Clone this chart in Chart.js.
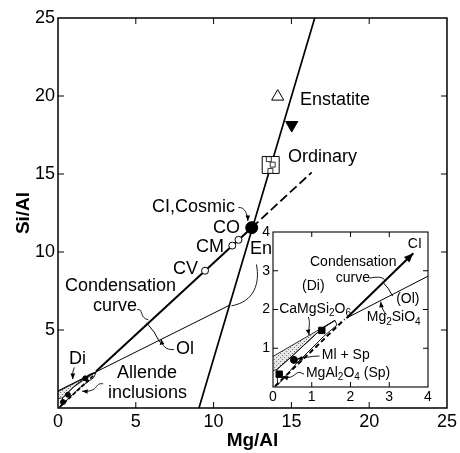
<!DOCTYPE html>
<html><head><meta charset="utf-8">
<script src="https://cdn.jsdelivr.net/npm/chart.js@4/dist/chart.umd.min.js"></script>
<style>
html,body{margin:0;padding:0;background:#fff;}
#wrap{position:relative;width:460px;height:453px;overflow:hidden;}
canvas{position:absolute;}
</style></head><body>
<div id="wrap">
<canvas id="main" width="460" height="453" style="left:0;top:0"></canvas>
<canvas id="inset" width="215" height="200" style="left:230px;top:215px"></canvas>
</div>
<script>
const FF = "'Liberation Sans', Arial, Helvetica, sans-serif";

// ---------- main plot data ----------
const xTicksMain = [0, 5, 10, 15, 20, 25];
const yTicksMain = [5, 10, 15, 20, 25];
const ciLine = [[2.45, 2.35], [12.45, 11.56]];
const ciDashed = [[12.45, 11.56], [16.3, 15.1]];
const steepLine = [[9.06, 0], [16.5, 25]];
const condLine = [[0, 1.1], [11.05, 6.6]];
const cvPoint = [[9.45, 8.8]];
const cmPoint = [[11.2, 10.41]];
const coPoint = [[11.6, 10.78]];
const ciPoint = [[12.45, 11.56]];
const enstatiteOpen = [[14.12, 19.96]];
const enstatiteFilled = [[15.02, 18.14]];
const ordinaryBox = [[13.67, 15.58]];
const ordinaryPts = [[13.55, 15.95], [13.8, 15.6], [13.65, 15.2]];
const allendeOutline = [[0.2,0.2],[0.3,0.65],[1.0,1.35],[2.0,2.15],[2.45,2.3],[2.3,1.95],[1.4,1.3],[0.5,0.45],[0.2,0.2]];
const allendeDi = [[0,1.05],[2.45,2.3],[1.0,1.35],[0.3,0.65],[0,0.6]];
const allendeDash = [[0.1,0.05],[2.3,2.1]];
const allendePts = [[0.32,0.38],[0.64,0.85],[1.75,1.9]];

// ---------- inset data ----------
const xTicksInset = [0, 1, 2, 3, 4];
const yTicksInset = [1, 2, 3, 4];
const insetCI = [[1.9, 1.78], [3.62, 3.45]];
const insetOl = [[1.9, 1.78], [4.0, 2.86]];
const insetDash = [[0.05, 0.02], [1.85, 1.75]];
const insetDi = [[0,0.79],[1.6,1.72],[1.25,1.5],[0.55,0.85],[0.1,0.45],[0,0.42]];
const insetOutline = [[0.1,0.45],[0.55,0.85],[1.25,1.5],[1.6,1.72],[1.65,1.6],[1.3,1.3],[0.6,0.6],[0.12,0.05],[0.1,0.45]];
const insetSquares = [[1.26, 1.46], [0.16, 0.33]];
const insetCircles = [[0.54, 0.70]];

// ---------- labels (data coordinates) ----------
const mainLabels = [
  {t:[['Enstatite']], x:15.55, y:19.74},
  {t:[['Ordinary']], x:14.78, y:16.09},
  {t:[['CI,Cosmic']], x:6.04, y:12.88},
  {t:[['CO']], x:9.96, y:11.54},
  {t:[['CM']], x:8.87, y:10.32},
  {t:[['CV']], x:7.39, y:8.91},
  {t:[['En']], x:12.34, y:10.19},
  {t:[['Condensation']], x:0.45, y:7.82},
  {t:[['curve']], x:2.25, y:6.54},
  {t:[['Ol']], x:7.58, y:3.78},
  {t:[['Di']], x:0.71, y:3.14},
  {t:[['Allende']], x:3.79, y:2.24},
  {t:[['inclusions']], x:3.21, y:0.96}
];
const insetLabels = [
  {t:[['CI']], x:3.66, y:3.69, align:'center'},
  {t:[['Condensation']], x:2.07, y:3.21, align:'center'},
  {t:[['curve']], x:2.06, y:2.81, align:'center'},
  {t:[['(Di)']], x:1.04, y:2.6, align:'center'},
  {t:[['(Ol)']], x:3.48, y:2.26, align:'center'},
  {t:[['CaMgSi'],['2',1],['O'],['6',1]], x:0.16, y:2.0},
  {t:[['Mg'],['2',1],['SiO'],['4',1]], x:2.42, y:1.79},
  {t:[['Ml + Sp']], x:1.26, y:0.81},
  {t:[['MgAl'],['2',1],['O'],['4',1],[' (Sp)']], x:0.85, y:0.37}
];
const mainLeaders = [
  {p:[[11.6,12.85],[12.0,12.9],[12.2,12.4],[12.2,11.98]], arrow:true},
  {p:[[12.75,9.2],[13.0,8.0],[12.6,6.8],[11.15,6.55]], arrow:false},
  {p:[[5.1,6.3],[5.5,6.4],[5.2,5.8],[5.8,5.65]], arrow:false},
  {p:[[7.45,3.75],[6.9,3.7],[6.7,4.0],[6.62,4.42]], arrow:true},
  {p:[[1.05,2.6],[0.9,2.3],[0.95,2.0],[0.95,1.85]], arrow:true},
  {p:[[2.9,1.55],[2.3,1.65],[2.7,1.0],[1.55,1.08]], arrow:true}
];
const insetLeaders = [
  {p:[[2.48,2.81],[2.7,2.85],[2.85,2.85],[2.9,2.73]], arrow:false},
  {p:[[2.93,1.87],[2.85,1.95],[2.8,2.05],[2.78,2.2]], arrow:true},
  {p:[[0.91,1.81],[0.98,1.65],[0.9,1.5],[0.93,1.34]], arrow:true},
  {p:[[1.2,0.8],[1.0,0.8],[0.8,0.75],[0.62,0.72]], arrow:true},
  {p:[[0.8,0.33],[0.55,0.5],[0.6,0.15],[0.25,0.27]], arrow:true}
];

// ---------- helpers ----------
function stipple(){
  const c=document.createElement('canvas');c.width=4;c.height=4;
  const g=c.getContext('2d');g.fillStyle='#e6e6e6';g.fillRect(0,0,4,4);
  g.fillStyle='#777';g.fillRect(0,0,1,1);g.fillRect(2,2,1,1);
  return g.createPattern(c,'repeat');
}
const pts = a => a.map(([x,y])=>({x,y}));
function lineDs(a, o={}){
  return Object.assign({data:pts(a), showLine:true, borderColor:'#000', borderWidth:1, pointRadius:0, fill:false, tension:0}, o);
}
function ptDs(a, o={}){
  return Object.assign({data:pts(a), showLine:false, pointRadius:4, pointStyle:'circle', pointBackgroundColor:'#000', pointBorderColor:'#000', pointBorderWidth:1}, o);
}
// give later datasets a lower 'order' so they are drawn on top
function stack(list){ list.forEach((d,i)=>{d.order=list.length-i;}); return list; }
function drawRich(ctx, segs, x, y, size, align){
  let w=0;
  for(const [t,sub] of segs){ctx.font=(sub?Math.round(size*0.7):size)+'px '+FF; w+=ctx.measureText(t).width;}
  let cx = align==='center'? x-w/2 : align==='right'? x-w : x;
  ctx.textBaseline='middle'; ctx.textAlign='left'; ctx.fillStyle='#000';
  for(const [t,sub] of segs){
    ctx.font=(sub?Math.round(size*0.7):size)+'px '+FF;
    ctx.fillText(t, cx, sub? y+size*0.3 : y);
    cx += ctx.measureText(t).width;
  }
}
function arrowHead(ctx, fx, fy, tx, ty, len){
  const a=Math.atan2(ty-fy, tx-fx);
  ctx.beginPath();
  ctx.moveTo(tx,ty);
  ctx.lineTo(tx-len*Math.cos(a-0.4), ty-len*Math.sin(a-0.4));
  ctx.lineTo(tx-len*Math.cos(a+0.4), ty-len*Math.sin(a+0.4));
  ctx.closePath(); ctx.fill();
}

const annot = {
  id:'annot',
  beforeDraw(chart, args, o){
    if(o.white){
      const a=chart.chartArea, ctx=chart.ctx;
      ctx.save(); ctx.fillStyle='#fff'; ctx.fillRect(a.left,a.top,a.right-a.left,a.bottom-a.top); ctx.restore();
    }
  },
  afterDatasetsDraw(chart, args, o){
    const {ctx, chartArea:a, scales} = chart;
    const X=v=>scales.x.getPixelForValue(v), Y=v=>scales.y.getPixelForValue(v);
    ctx.save();
    ctx.strokeStyle='#000'; ctx.fillStyle='#000';
    ctx.lineWidth=o.frameW;
    ctx.strokeRect(a.left, a.top, a.right-a.left, a.bottom-a.top);
    ctx.lineWidth=1;
    ctx.beginPath();
    for(const v of o.xt){const px=X(v); ctx.moveTo(px,a.bottom); ctx.lineTo(px,a.bottom-o.len); ctx.moveTo(px,a.top); ctx.lineTo(px,a.top+o.len);}
    for(const v of o.yt){const py=Y(v); ctx.moveTo(a.left,py); ctx.lineTo(a.left+o.len,py); ctx.moveTo(a.right,py); ctx.lineTo(a.right-o.len,py);}
    ctx.stroke();
    if(o.arc){
      const [l1,l2,r]=o.arc;
      const cx=X(l1[0][0]), cy=Y(l1[0][1]);
      const a1=Math.atan2(Y(l1[1][1])-cy, X(l1[1][0])-cx);
      const a2=Math.atan2(Y(l2[1][1])-cy, X(l2[1][0])-cx);
      ctx.beginPath(); ctx.arc(cx,cy,r,a1-0.02,a2+0.03); ctx.stroke();
    }
    if(o.arrowLine){
      const l=o.arrowLine; const n=l.length;
      arrowHead(ctx, X(l[n-2][0]), Y(l[n-2][1]), X(l[n-1][0]), Y(l[n-1][1]), 10);
    }
    ctx.lineWidth=0.9;
    for(const L of o.leaders){
      const q=L.p.map(([x,y])=>[X(x),Y(y)]);
      ctx.beginPath(); ctx.moveTo(q[0][0],q[0][1]);
      ctx.bezierCurveTo(q[1][0],q[1][1],q[2][0],q[2][1],q[3][0],q[3][1]); ctx.stroke();
      if(L.arrow) arrowHead(ctx, q[2][0],q[2][1], q[3][0],q[3][1], 6);
    }
    for(const T of o.labels){
      drawRich(ctx, T.t, X(T.x), Y(T.y), o.fs, T.align||'left');
    }
    ctx.restore();
  }
};

const tickFont = s => ({family:FF, size:s});
const pat = stipple();

// ---------- main chart ----------
new Chart(document.getElementById('main'), {
  type:'scatter',
  data:{datasets:stack([
    lineDs(allendeDi, {borderWidth:0.8, fill:'shape', backgroundColor:pat}),
    lineDs(allendeOutline, {borderWidth:0.9}),
    lineDs(allendeDash, {borderWidth:1.8, borderDash:[4,2]}),
    lineDs(condLine, {borderWidth:1}),
    lineDs(ciLine, {borderWidth:2}),
    lineDs(ciDashed, {borderWidth:1.8, borderDash:[9,4]}),
    lineDs(steepLine, {borderWidth:1.7}),
    ptDs(allendePts, {pointRadius:2.5}),
    ptDs(cvPoint, {pointRadius:3.5, pointBackgroundColor:'#fff'}),
    ptDs(cmPoint, {pointRadius:3.5, pointBackgroundColor:'#fff'}),
    ptDs(coPoint, {pointRadius:3.5, pointBackgroundColor:'#fff'}),
    ptDs(ciPoint, {pointRadius:6}),
    ptDs(enstatiteOpen, {pointStyle:'triangle', pointRadius:7, pointBackgroundColor:'#fff'}),
    ptDs(enstatiteFilled, {pointStyle:'triangle', rotation:180, pointRadius:7}),
    ptDs(ordinaryBox, {pointStyle:'rect', pointRadius:12, pointBackgroundColor:'#fff'}),
    ptDs(ordinaryPts, {pointStyle:'rect', pointRadius:3.5, pointBackgroundColor:'#fff', pointBorderWidth:0.8})
  ])},
  options:{
    responsive:false, animation:false, events:[],
    layout:{padding:{top:18, right:11, left:0, bottom:0}},
    scales:{
      x:{type:'linear', min:0, max:25,
        afterBuildTicks(s){s.ticks=xTicksMain.map(v=>({value:v}));},
        afterFit(s){s.height=45;},
        grid:{display:false, drawTicks:false, tickLength:0}, border:{display:false},
        ticks:{font:tickFont(18), color:'#000', padding:3, maxRotation:0},
        title:{display:true, text:'Mg/Al', color:'#000', font:{family:FF, size:19, weight:'bold'}, padding:{top:0,bottom:1}}
      },
      y:{type:'linear', min:0, max:25,
        afterBuildTicks(s){s.ticks=yTicksMain.map(v=>({value:v}));},
        afterFit(s){s.width=58;},
        grid:{display:false, drawTicks:false, tickLength:0}, border:{display:false},
        ticks:{font:tickFont(18), color:'#000', padding:3},
        title:{display:true, text:'Si/Al', color:'#000', font:{family:FF, size:19, weight:'bold'}, padding:{top:12,bottom:0}}
      }
    },
    plugins:{legend:{display:false}, tooltip:{enabled:false},
      annot:{frameW:1.5, len:6, xt:[5,10,15,20], yt:[5,10,15,20],
        arc:[ciLine, condLine, 70], leaders:mainLeaders, labels:mainLabels, fs:18}
    }
  },
  plugins:[annot]
});

// ---------- inset chart ----------
new Chart(document.getElementById('inset'), {
  type:'scatter',
  data:{datasets:stack([
    lineDs(insetDi, {borderWidth:0.8, fill:'shape', backgroundColor:pat}),
    lineDs(insetOutline, {borderWidth:0.9}),
    lineDs(insetOl, {borderWidth:1}),
    lineDs(insetCI, {borderWidth:2}),
    lineDs(insetDash, {borderWidth:2, borderDash:[5,3]}),
    ptDs(insetSquares, {pointStyle:'rect', pointRadius:4.5}),
    ptDs(insetCircles, {pointRadius:3.5})
  ])},
  options:{
    responsive:false, animation:false, events:[],
    layout:{padding:{top:17, right:17, left:0, bottom:0}},
    scales:{
      x:{type:'linear', min:0, max:4,
        afterBuildTicks(s){s.ticks=xTicksInset.map(v=>({value:v}));},
        afterFit(s){s.height=28;},
        grid:{display:false, drawTicks:false, tickLength:0}, border:{display:false},
        ticks:{font:tickFont(14), color:'#000', padding:2, maxRotation:0}
      },
      y:{type:'linear', min:0, max:4,
        afterBuildTicks(s){s.ticks=yTicksInset.map(v=>({value:v}));},
        afterFit(s){s.width=43;},
        grid:{display:false, drawTicks:false, tickLength:0}, border:{display:false},
        ticks:{font:tickFont(14), color:'#000', padding:3}
      }
    },
    plugins:{legend:{display:false}, tooltip:{enabled:false},
      annot:{white:true, frameW:1.1, len:5, xt:[1,2,3], yt:[1,2,3],
        arc:[insetCI, insetOl, 51], arrowLine:insetCI, leaders:insetLeaders, labels:insetLabels, fs:14}
    }
  },
  plugins:[annot]
});
</script>
</body></html>
